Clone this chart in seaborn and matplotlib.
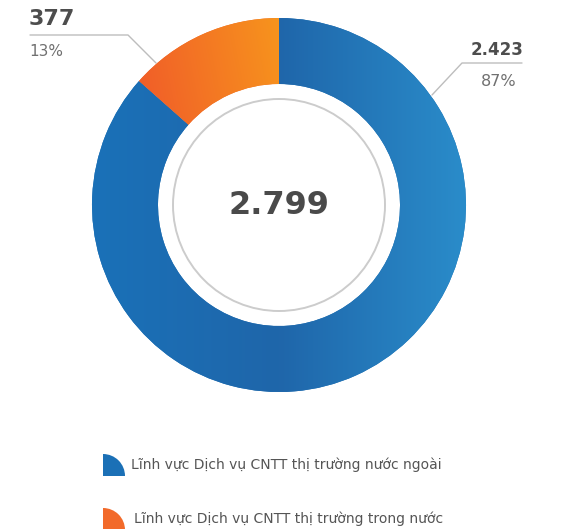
import numpy as np
import matplotlib
matplotlib.use("Agg")
import matplotlib.pyplot as plt
from matplotlib.patches import Wedge, Circle
from matplotlib.colors import LinearSegmentedColormap
import seaborn as sns

# ---- data ----
categories = ["Lĩnh vực Dịch vụ CNTT thị trường nước ngoài",
              "Lĩnh vực Dịch vụ CNTT thị trường trong nước"]
values = [2423, 377]
value_labels = ["2.423", "377"]
pct_labels = ["87%", "13%"]
total_label = "2.799"

sns.set_theme(style="white")
plt.rcParams['font.family'] = ['DejaVu Sans']

W, H = 566, 529
fig = plt.figure(figsize=(W / 100, H / 100), dpi=100)
ax = fig.add_axes([0, 0, 1, 1])
ax.set_xlim(0, W)
ax.set_ylim(0, H)
ax.set_aspect('equal')
ax.axis('off')

def Y(py):
    return H - py

cx, cy = 279, Y(205)
R_out, R_in = 187, 121

blue_cmap = LinearSegmentedColormap.from_list("b", ["#1a71b8", "#1f66aa", "#2a8cca"])
orange_cmap = LinearSegmentedColormap.from_list("o", ["#f0582a", "#f7941d"])

wedges, _ = ax.pie(values, startangle=90, counterclock=False,
                   radius=R_out, center=(cx, cy),
                   colors=["#1f6fb2", "#f26a2a"],
                   wedgeprops=dict(width=R_out - R_in, linewidth=0))

# gradient fills clipped to wedges
xx = np.linspace(0, 1, 256)
grad_h = np.tile(xx, (64, 1))
im_b = ax.imshow(grad_h, cmap=blue_cmap,
                 extent=(cx - R_out, cx + R_out, cy - R_out, cy + R_out),
                 origin='lower', zorder=2, interpolation='bilinear', aspect='auto')
im_b.set_clip_path(wedges[0])
yy = np.linspace(0, 1, 256)
gg = np.clip(np.tile(xx, (256, 1)) * 0.85 + np.tile(yy[:, None], (1, 256)) * 0.15, 0, 1)
im_o = ax.imshow(gg, cmap=orange_cmap,
                 extent=(cx - 145, cx, cy + 60, cy + R_out),
                 origin='lower', zorder=2, interpolation='bilinear', aspect='auto')
im_o.set_clip_path(wedges[1])
ax.set_xlim(0, W)
ax.set_ylim(0, H)

# inner gray ring
ax.add_patch(Circle((cx, cy), 106, fill=False, edgecolor="#cccccc", linewidth=1.4, zorder=3))

# centre total
ax.text(cx, cy - 1, total_label, ha='center', va='center', fontsize=23,
        fontweight='bold', color="#4a4a4a", zorder=4)

txt = "#4d4d4d"
# leader lines
ax.plot([30, 128, 156], [Y(35), Y(35), Y(63)], color="#bdbdbd", lw=1, zorder=1)
ax.plot([522, 462, 432], [Y(63), Y(63), Y(95)], color="#bdbdbd", lw=1, zorder=1)

# labels (orange, top-left)
ax.text(29, Y(19), value_labels[1], ha='left', va='center', fontsize=16,
        fontweight='bold', color=txt)
ax.text(29, Y(51), pct_labels[1], ha='left', va='center', fontsize=11, color="#707070")
# labels (blue, top-right)
ax.text(524, Y(50), value_labels[0], ha='right', va='center', fontsize=12,
        fontweight='bold', color=txt)
ax.text(516, Y(82), pct_labels[0], ha='right', va='center', fontsize=11.5, color="#707070")

# legend
leg_y = [465, 519]
icon_cols = ["#1b70b6", "#f26a2a"]
for i, (lab, col) in enumerate(zip(categories, icon_cols)):
    py = leg_y[i]
    ax.add_patch(Wedge((103, Y(py + 11)), 22, 0, 90, facecolor=col, edgecolor='none'))
    ax.text(131 + (3 if i else 0), Y(py), lab, ha='left', va='center',
            fontsize=10, color="#555555")

fig.savefig("out.png", dpi=100)
